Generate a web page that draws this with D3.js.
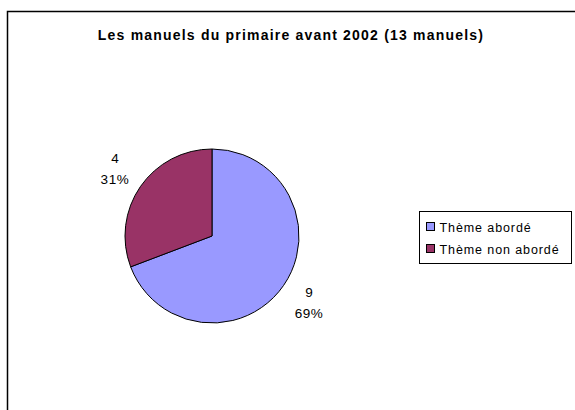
<!DOCTYPE html>
<html>
<head>
<meta charset="utf-8">
<script src="https://cdn.jsdelivr.net/npm/d3@7"></script>
<style>
  body { margin: 0; background: #fff; }
  svg { display: block; font-family: "Liberation Sans", Arial, sans-serif; }
</style>
</head>
<body>
<div id="chart"></div>
<script>
var width = 575;
var height = 410;

var title = "Les manuels du primaire avant 2002 (13 manuels)";
var categories = ["Thème abordé", "Thème non abordé"];
var values = [9, 4];
var colors = ["#9999FF", "#993366"];

var data = categories.map(function (c, i) {
  return { name: c, value: values[i], color: colors[i] };
});
var total = d3.sum(values);

var svg = d3.select("#chart")
  .append("svg")
  .attr("width", width)
  .attr("height", height);

// chart frame (runs off the right and bottom edges like the original)
svg.append("rect")
  .attr("x", 7.5)
  .attr("y", 11.5)
  .attr("width", 600)
  .attr("height", 450)
  .attr("fill", "#fff")
  .attr("stroke", "#000")
  .attr("stroke-width", 1.5);

svg.append("text")
  .attr("x", 291)
  .attr("y", 40)
  .attr("text-anchor", "middle")
  .style("font-size", "14px")
  .style("font-weight", "bold")
  .style("letter-spacing", "1.2px")
  .text(title);

var cx = 212, cy = 236, radius = 87;

var pie = d3.pie()
  .sort(null)
  .value(function (d) { return d.value; });

var arc = d3.arc()
  .innerRadius(0)
  .outerRadius(radius);

var arcs = pie(data);

var g = svg.append("g")
  .attr("transform", "translate(" + cx + "," + cy + ")");

g.selectAll("path")
  .data(arcs)
  .enter()
  .append("path")
  .attr("d", arc)
  .attr("fill", function (d) { return d.data.color; })
  .attr("stroke", "#000")
  .attr("stroke-width", 1);

// value + percent labels outside each slice
var labelArc = d3.arc()
  .innerRadius(radius + 31)
  .outerRadius(radius + 31);

var labels = g.selectAll("g.label")
  .data(arcs)
  .enter()
  .append("g")
  .attr("class", "label")
  .attr("transform", function (d) {
    var p = labelArc.centroid(d);
    return "translate(" + p[0] + "," + p[1] + ")";
  });

labels.append("text")
  .attr("text-anchor", "middle")
  .attr("y", -6)
  .style("font-size", "13.5px")
  .text(function (d) { return d.data.value; });

labels.append("text")
  .attr("text-anchor", "middle")
  .attr("y", 15)
  .style("font-size", "13.5px")
  .style("letter-spacing", "0.5px")
  .text(function (d) { return Math.round(d.data.value / total * 100) + "%"; });

// legend
var legend = svg.append("g")
  .attr("transform", "translate(419.5,211.5)");

legend.append("rect")
  .attr("width", 152)
  .attr("height", 52)
  .attr("fill", "#fff")
  .attr("stroke", "#000")
  .attr("stroke-width", 1);

var item = legend.selectAll("g.item")
  .data(data)
  .enter()
  .append("g")
  .attr("class", "item")
  .attr("transform", function (d, i) { return "translate(7," + (11 + i * 22) + ")"; });

item.append("rect")
  .attr("width", 8)
  .attr("height", 8)
  .attr("fill", function (d) { return d.color; })
  .attr("stroke", "#000")
  .attr("stroke-width", 1);

item.append("text")
  .attr("x", 13)
  .attr("y", 9)
  .style("font-size", "12.5px")
  .style("letter-spacing", "0.9px")
  .text(function (d) { return d.name; });
</script>
</body>
</html>
